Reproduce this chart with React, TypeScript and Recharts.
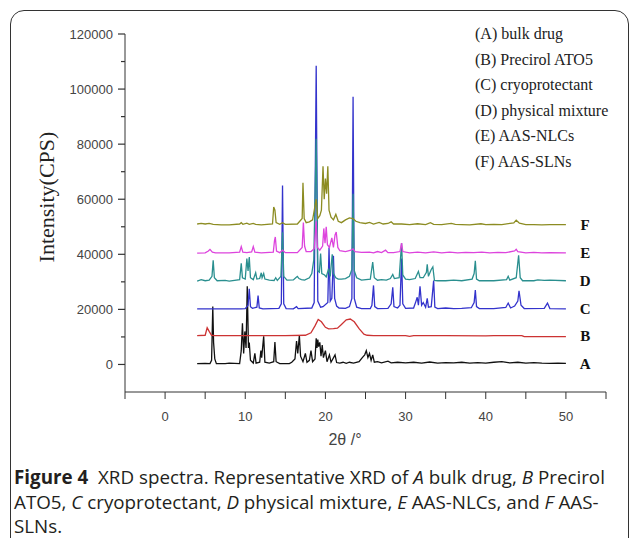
import React from "react";
import { LineChart, Line, XAxis, YAxis, ReferenceDot } from "recharts";

// 2θ (deg) vs intensity (CPS); each trace is offset by its own baseline
const bulkDrug: [number, number][] = [
  [4, 300], [5.0, 400], [5.6, 300], [5.8, 1500], [5.95, 21000], [6.05, 8000], [6.2, 2000], [6.4, 300],
  [7.5, 300], [8, 500], [9.3, 300], [9.5, 5000], [9.65, 15000], [9.8, 4000], [9.95, 12000], [10.1, 6000],
  [10.25, 28400], [10.4, 6000], [10.5, 8000], [10.65, 1500], [11.0, 500], [11.2, 4000], [11.35, 500],
  [11.8, 800], [11.95, 5000], [12.05, 2500], [12.3, 10200], [12.45, 800], [13.0, 500], [13.55, 1000],
  [13.7, 8100], [13.85, 1000], [14.3, 300], [15.5, 300], [15.8, 800], [16.2, 2000], [16.4, 8500],
  [16.55, 4000], [16.75, 10500], [16.9, 3000], [17.2, 1000], [17.5, 4000], [17.7, 800], [18.0, 1500],
  [18.2, 5000], [18.4, 1000], [18.7, 2000], [18.85, 9500], [18.95, 6000], [19.05, 9000], [19.15, 6500],
  [19.3, 8000], [19.45, 3000], [19.6, 7000], [19.75, 2500], [20.0, 5000], [20.2, 1000], [20.5, 3500],
  [20.7, 800], [21.2, 3500], [21.4, 700], [21.8, 500], [22.2, 800], [22.6, 400], [23.0, 800], [23.5, 500],
  [24.2, 1000], [24.6, 2500], [24.9, 3500], [25.1, 5000], [25.3, 2500], [25.5, 4000], [25.7, 1500],
  [25.9, 3500], [26.1, 800], [26.5, 1000], [27, 600], [27.8, 1200], [28.2, 600], [29, 800], [30, 600],
  [31, 800], [32, 500], [33, 900], [34, 500], [35, 700], [36, 600], [37, 800], [38, 500], [39, 700],
  [40, 500], [41, 800], [42, 1000], [43, 600], [44, 800], [45, 500], [46, 700], [47, 500], [48, 400],
  [49, 500], [50, 400],
];

const precirol: [number, number][] = [
  [4, 10500], [5.0, 10600], [5.25, 13300], [5.5, 12000], [5.8, 10600], [6.2, 10500], [10, 10500],
  [15, 10500], [17.5, 10600], [18.2, 11500], [18.7, 14000], [19.1, 16300], [19.5, 15500], [20.0, 13500],
  [20.4, 12900], [21.0, 13000], [21.5, 13200], [22.0, 14500], [22.6, 16200], [23.1, 16500], [23.6, 15500],
  [24.2, 13000], [24.8, 11000], [25.2, 10600], [26, 10500], [30, 10500], [30.5, 10200], [31, 10500],
  [35, 10500], [40, 10400], [41, 10500], [44.5, 10500], [44.8, 10100], [50, 10100],
];

const cryoprotectant: [number, number][] = [
  [4, 20200], [9.5, 20200], [10.0, 20300], [10.35, 21500], [10.5, 27500], [10.65, 21000], [10.9, 20400],
  [11.45, 20800], [11.6, 25000], [11.75, 20500], [12.2, 20200], [14.2, 20400], [14.5, 22000],
  [14.65, 65000], [14.8, 22000], [15.1, 20300], [16.0, 20200], [16.4, 21000], [16.6, 20300],
  [18.3, 20500], [18.6, 22500], [18.85, 108500], [19.05, 23000], [19.4, 20800], [19.7, 21000],
  [20.3, 22500], [20.45, 42500], [20.6, 23000], [20.8, 24000], [21.0, 39500], [21.15, 24000],
  [21.4, 21200], [21.7, 20500], [22.5, 20400], [23.0, 21000], [23.3, 24000], [23.45, 97200],
  [23.6, 24000], [23.9, 20800], [24.5, 20300], [25.6, 20300], [25.8, 21500], [26.0, 28700],
  [26.15, 21000], [26.5, 20300], [27.8, 20400], [28.2, 22000], [28.4, 28000], [28.55, 21000],
  [29.0, 20500], [29.3, 21500], [29.5, 38500], [29.65, 22000], [30.0, 20400], [31.0, 20500],
  [31.3, 23000], [31.45, 24400], [31.6, 21500], [31.8, 28400], [32.0, 21500], [32.2, 22500],
  [32.5, 20800], [32.7, 24000], [32.85, 20800], [33.2, 21000], [33.5, 30500], [33.65, 20800],
  [34, 20300], [35, 20500], [36, 20300], [37, 20400], [38.2, 20600], [38.55, 22500], [38.7, 27000],
  [38.85, 21000], [39.2, 20300], [41, 20300], [42.5, 20700], [42.8, 22300], [43.1, 20500],
  [43.6, 21200], [44.0, 23000], [44.15, 26700], [44.4, 21500], [44.8, 20300], [47.3, 20400],
  [47.7, 22300], [48.0, 20300], [50, 20200],
];

const physicalMixture: [number, number][] = [
  [4, 30300], [4.5, 30800], [5.0, 30400], [5.5, 30600], [5.85, 32000], [6.0, 37800], [6.15, 31500],
  [6.5, 30400], [7.5, 30500], [8.0, 30300], [9.3, 30800], [9.5, 36700], [9.65, 31500], [10.0, 31000],
  [10.2, 38500], [10.35, 34000], [10.5, 39000], [10.65, 31500], [11.0, 30800], [11.3, 33300],
  [11.45, 31000], [11.8, 31200], [12.0, 33300], [12.1, 31500], [12.3, 33000], [12.45, 31000],
  [13.0, 30600], [13.6, 30500], [13.8, 31500], [14.0, 30500], [14.45, 32000], [14.65, 48000],
  [14.8, 32000], [15.2, 30600], [16.0, 30700], [16.3, 31500], [16.5, 32000], [16.7, 31200],
  [17.0, 30800], [17.4, 30600], [18.0, 31500], [18.3, 33000], [18.55, 38000], [18.85, 82000],
  [19.05, 34000], [19.25, 33500], [19.4, 40300], [19.55, 33000], [19.9, 32500], [20.1, 31800],
  [20.4, 34800], [20.6, 32000], [20.85, 40000], [21.0, 33000], [21.3, 31500], [21.6, 31000],
  [22.0, 31000], [22.5, 31200], [23.0, 32000], [23.3, 34500], [23.45, 62000], [23.6, 34000],
  [23.9, 31500], [24.5, 30600], [25.6, 31000], [25.9, 37200], [26.1, 31500], [26.5, 30600],
  [27, 30800], [27.6, 30600], [28.1, 31200], [28.4, 32700], [28.6, 31200], [29.2, 31500],
  [29.5, 44100], [29.65, 32500], [30.0, 31000], [30.5, 30800], [31.2, 31200], [31.6, 33800],
  [31.8, 31500], [32.2, 31500], [32.6, 33500], [32.7, 36400], [32.85, 32000], [33.2, 34500],
  [33.4, 35400], [33.6, 30500], [34, 30400], [35, 30400], [36, 30600], [37, 30400], [38.3, 31000],
  [38.55, 33000], [38.7, 37600], [38.85, 31000], [39.2, 30400], [41, 30400], [42.6, 30800],
  [42.8, 32000], [43.0, 30600], [43.8, 31500], [44.1, 39600], [44.3, 31500], [44.6, 30400],
  [46, 30400], [46.5, 30700], [47.3, 30500], [48.0, 30600], [50, 30400],
];

const aasNlc: [number, number][] = [
  [4, 40400], [5.0, 40500], [5.4, 41200], [5.6, 41800], [5.9, 40800], [6.3, 40500], [8, 40500],
  [9.3, 40800], [9.5, 42800], [9.7, 40800], [10.2, 40600], [10.8, 40900], [11.0, 42800], [11.2, 40800],
  [12, 40500], [13.5, 40800], [13.65, 45000], [13.75, 46300], [13.9, 41200], [14.3, 40600],
  [14.65, 41500], [15, 40600], [16.5, 40600], [17.1, 42500], [17.25, 51500], [17.4, 43000],
  [17.6, 41000], [18.2, 41000], [18.6, 42000], [18.85, 52000], [19.0, 42500], [19.3, 41500],
  [19.65, 43000], [19.8, 49400], [19.95, 44000], [20.1, 50000], [20.25, 43500], [20.5, 42500],
  [20.8, 46000], [21.0, 42500], [21.2, 47000], [21.35, 48100], [21.55, 42500], [21.8, 41300],
  [22.5, 41000], [23.2, 41500], [23.45, 42000], [23.7, 41000], [24.5, 40700], [25.5, 40800],
  [26, 40500], [26.5, 41000], [27, 40600], [27.5, 41500], [27.8, 40600], [28.5, 40600], [29.3, 41000],
  [29.5, 44100], [29.65, 41000], [30.5, 40500], [31.5, 40800], [32.5, 40500], [33.5, 40900],
  [34.5, 40500], [35.5, 40800], [36.5, 40500], [37.5, 40700], [38.5, 40600], [39.5, 40800],
  [40.5, 40500], [41.5, 40700], [42.5, 40600], [43.6, 41200], [43.8, 41800], [44.0, 41000],
  [45, 40500], [46, 40700], [47, 40500], [48, 40600], [50, 40500],
];

const aasSln: [number, number][] = [
  [4, 51000], [4.5, 51200], [5.0, 51000], [5.5, 51200], [6.0, 50900], [7, 50700], [8, 50700],
  [9.3, 51000], [9.5, 51500], [9.7, 50900], [10.2, 51300], [10.5, 50900], [11.0, 51200], [11.3, 50900],
  [12, 50700], [13.4, 51000], [13.55, 57200], [13.7, 56000], [13.85, 51500], [14.3, 50900],
  [14.65, 51500], [15, 50900], [16.5, 51000], [17.1, 53000], [17.2, 66000], [17.35, 53000],
  [17.6, 51500], [18.0, 51800], [18.4, 52500], [18.85, 60000], [19.05, 53000], [19.3, 54000],
  [19.5, 56000], [19.7, 72000], [19.85, 60000], [20.0, 67500], [20.15, 62000], [20.3, 72000],
  [20.45, 56000], [20.7, 53500], [21.0, 52500], [21.3, 54500], [21.6, 52000], [22.0, 51500],
  [22.5, 52500], [23.0, 53200], [23.45, 53000], [23.8, 52000], [24.3, 51500], [25.0, 51200],
  [25.5, 51600], [26, 51000], [26.7, 51600], [27.2, 51000], [27.8, 51200], [28.2, 51800], [28.5, 51000],
  [29.5, 51000], [30.5, 50800], [31.5, 51100], [32.5, 50800], [33.1, 51500], [33.5, 50900],
  [34.5, 50800], [35.7, 51200], [36.2, 50900], [37, 50800], [38, 50700], [39.4, 51100], [40, 50800],
  [41, 50900], [42, 50800], [43.5, 51400], [43.8, 52400], [44.2, 51300], [45, 50800], [46, 50800],
  [47, 50700], [48, 50800], [50, 50800],
];

const traceLetters = ["A", "B", "C", "D", "E", "F"];
const traceBaselines = [300, 10500, 20200, 30400, 40500, 50800];
const traceColors = ["#111111", "#cc3333", "#3333cc", "#2a8f8f", "#dd44dd", "#8c8c22"];
const traces = [bulkDrug, precirol, cryoprotectant, physicalMixture, aasNlc, aasSln];

const legendLines = [
  "(A) bulk drug",
  "(B) Precirol ATO5",
  "(C) cryoprotectant",
  "(D) physical mixture",
  "(E) AAS-NLCs",
  "(F) AAS-SLNs",
];

const xTicks = [-5, 0, 5, 10, 15, 20, 25, 30, 35, 40, 45, 50, 55];
const yTicks = [0, 10000, 20000, 30000, 40000, 50000, 60000, 70000, 80000, 90000, 100000, 110000, 120000];

const toPoints = (pairs: [number, number][]) => pairs.map(([x, y]) => ({ x, y }));

const axisColor = "#333";
const tickFont = "'Liberation Sans', Arial, sans-serif";
const serif = "'Liberation Serif', 'Times New Roman', serif";

// label anchor sits tickSize + tickMargin left of the axis line
function YTick(props: any) {
  const { x, y, payload } = props;
  const major = payload.value % 20000 === 0;
  const ax = x + 12;
  return (
    <g>
      <line x1={ax - (major ? 7 : 4)} x2={ax} y1={y} y2={y} stroke={axisColor} strokeWidth={1.2} />
      {major && (
        <text x={x} y={y} dy="0.36em" textAnchor="end" fill="#444" fontSize={13} fontFamily={tickFont}>
          {payload.value}
        </text>
      )}
    </g>
  );
}

export default function App() {
  return (
    <div style={{ position: "absolute", left: 0, top: 0, width: 630, height: 538, background: "#fff", overflow: "hidden" }}>
      <div
        style={{
          position: "absolute", left: 10, top: 10, width: 617, height: 600,
          border: "1.5px solid #333", borderRadius: "14px 14px 0 0",
        }}
      />
      <LineChart width={630} height={538} margin={{ top: 34, right: 24, left: 65, bottom: 116 }}>
        <XAxis
          dataKey="x"
          type="number"
          domain={[-5, 55]}
          ticks={xTicks}
          allowDataOverflow
          tickSize={7}
          tickMargin={13}
          stroke={axisColor}
          tick={{ fill: "#444", fontSize: 13, fontFamily: tickFont }}
          tickFormatter={(v: number) => (v % 10 === 0 && v >= 0 && v <= 50 ? String(v) : "")}
        />
        <YAxis
          type="number"
          width={60}
          domain={[-10000, 120000]}
          ticks={yTicks}
          allowDataOverflow
          tickSize={7}
          tickMargin={5}
          tickLine={false}
          stroke={axisColor}
          tick={<YTick />}
        />
        {traces.map((t, i) => (
          <Line
            key={traceLetters[i]}
            data={toPoints(t)}
            dataKey="y"
            type="linear"
            stroke={traceColors[i]}
            strokeWidth={1.3}
            dot={false}
            activeDot={false}
            isAnimationActive={false}
          />
        ))}
        {traceLetters.map((l, i) => (
          <ReferenceDot
            key={"lbl" + l}
            x={52.4}
            y={traceBaselines[i]}
            r={0}
            stroke="none"
            fill="none"
            label={{ value: l, position: "center", fill: "#111", fontSize: 15, fontWeight: "bold", fontFamily: serif }}
          />
        ))}
      </LineChart>

      <div
        style={{
          position: "absolute", left: 47, top: 197, transform: "translate(-50%, -50%) rotate(-90deg)",
          whiteSpace: "nowrap", fontFamily: serif, fontSize: 22, color: "#222",
        }}
      >
        Intensity(CPS)
      </div>
      <div
        style={{
          position: "absolute", left: 345, top: 440, transform: "translate(-50%, -50%)",
          whiteSpace: "nowrap", fontFamily: tickFont, fontSize: 16, color: "#444",
        }}
      >
        2θ /°
      </div>

      <div style={{ position: "absolute", left: 475, top: 21, fontFamily: serif, fontSize: 16, lineHeight: "25.6px", color: "#222" }}>
        {legendLines.map((s) => (
          <div key={s} style={{ whiteSpace: "nowrap" }}>{s}</div>
        ))}
      </div>

      <div
        style={{
          position: "absolute", left: 14, top: 465, fontFamily: "'Open Sans', 'Noto Sans', sans-serif",
          fontSize: 18.8, lineHeight: "24.5px", color: "#231f20", whiteSpace: "nowrap",
        }}
      >
        <div>
          <b>Figure 4</b>&nbsp; XRD spectra. Representative XRD of <i>A</i> bulk drug, <i>B</i> Precirol
        </div>
        <div>
          ATO5, <i>C</i> cryoprotectant, <i>D</i> physical mixture, <i>E</i> AAS-NLCs, and <i>F</i> AAS-
        </div>
        <div>SLNs.</div>
      </div>
    </div>
  );
}
